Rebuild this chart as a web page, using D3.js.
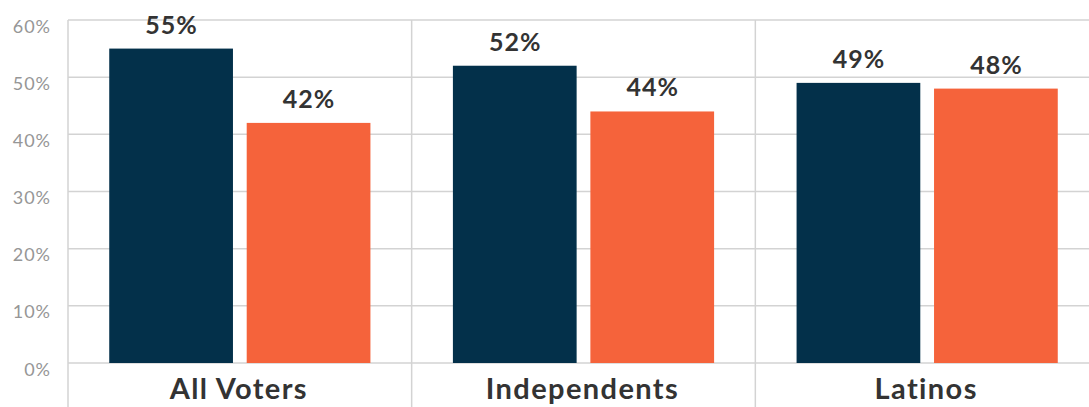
<!DOCTYPE html>
<html><head><meta charset="utf-8">
<script src="https://cdn.jsdelivr.net/npm/d3@7"></script>
<style>body{margin:0;background:#fff;}svg{display:block;}</style>
</head><body>
<svg id="c" width="1089" height="407"></svg>
<script>
const categories = ["All Voters", "Independents", "Latinos"];
const seriesNames = ["A", "B"];
const seriesA = [55, 52, 49];
const seriesB = [42, 44, 48];
const yTicks = [0, 10, 20, 30, 40, 50, 60];
const colors = ["#03304a", "#f5633b"];

(function () {
const svg = d3.select("#c");
const mLeft = 68, mRight = 1099, mTop = 20, mBottom = 363;
const x = d3.scaleBand().domain(categories).range([mLeft, mRight]);
const y = d3.scaleLinear().domain([0, 60]).range([mBottom, mTop]);
const inner = d3.scaleBand().domain(seriesNames).range([0, x.bandwidth()]).paddingInner(0.1).paddingOuter(0.3);

svg.append("g").selectAll("line").data(yTicks).join("line")
  .attr("x1", mLeft).attr("x2", mRight)
  .attr("y1", d => y(d)).attr("y2", d => y(d))
  .attr("stroke", "#d3d3d3").attr("stroke-width", 1.5);
const seps = [mLeft, ...categories.slice(1).map(c => x(c))];
svg.append("g").selectAll("line").data(seps).join("line")
  .attr("x1", d => d).attr("x2", d => d)
  .attr("y1", mTop).attr("y2", 407)
  .attr("stroke", "#d3d3d3").attr("stroke-width", 1.5);

svg.append("g").selectAll("text").data(yTicks).join("text")
  .attr("x", 51).attr("y", d => y(d) + 12.5)
  .attr("text-anchor", "end")
  .attr("font-family", "Lato, sans-serif").attr("font-size", 18)
  .attr("letter-spacing", 1)
  .attr("fill", "#969696")
  .text(d => d + "%");

const data = categories.flatMap((c, i) => [
  {c, s: "A", v: seriesA[i]}, {c, s: "B", v: seriesB[i]}
]);
svg.append("g").selectAll("rect").data(data).join("rect")
  .attr("x", d => x(d.c) + inner(d.s))
  .attr("width", inner.bandwidth())
  .attr("y", d => y(d.v))
  .attr("height", d => y(0) - y(d.v))
  .attr("fill", d => colors[seriesNames.indexOf(d.s)]);

svg.append("g").selectAll("text").data(data).join("text")
  .attr("x", d => x(d.c) + inner(d.s) + inner.bandwidth() / 2 + 0.5)
  .attr("y", d => y(d.v) - 15)
  .attr("text-anchor", "middle")
  .attr("font-family", "Lato, sans-serif").attr("font-weight", "bold")
  .attr("font-size", 25).attr("letter-spacing", 1).attr("fill", "#333")
  .text(d => d.v + "%");

svg.append("g").selectAll("text").data(categories).join("text")
  .attr("x", d => x(d) + x.bandwidth() / 2 - 1)
  .attr("y", 399)
  .attr("text-anchor", "middle")
  .attr("font-family", "Lato, sans-serif").attr("font-weight", "bold")
  .attr("font-size", 29).attr("letter-spacing", 1.4).attr("fill", "#333")
  .text(d => d);
})();
</script>
</body></html>
